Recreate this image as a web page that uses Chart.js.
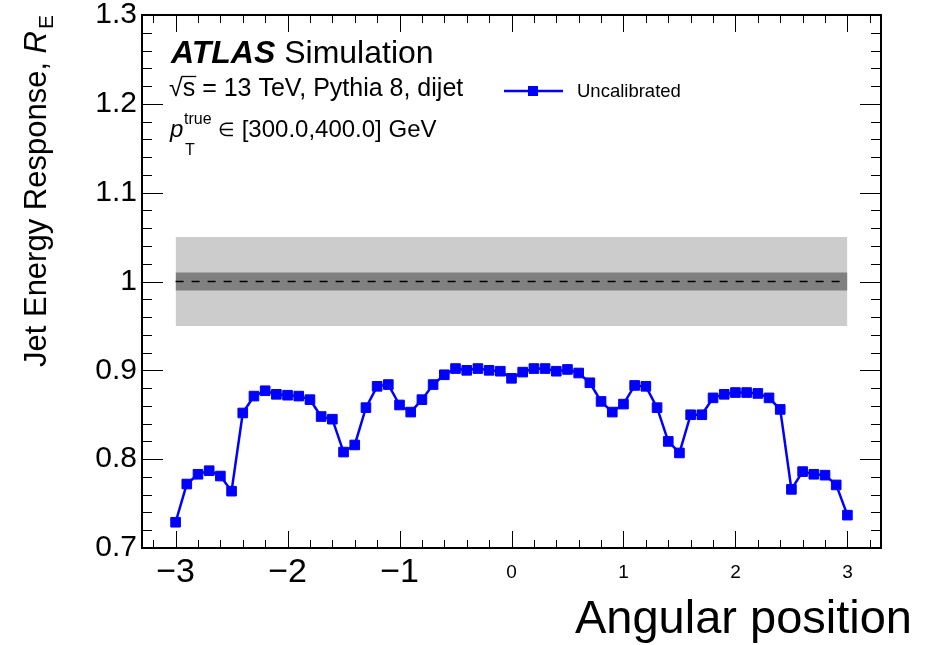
<!DOCTYPE html>
<html>
<head>
<meta charset="utf-8">
<script src="https://cdn.jsdelivr.net/npm/chart.js@4.4.1/dist/chart.umd.min.js"></script>
<style>
  html, body { margin: 0; padding: 0; background: #ffffff; }
  canvas { display: block; }
</style>
</head>
<body>
<canvas id="c" width="926" height="645"></canvas>
<script>
// Angular position bins and the uncalibrated jet energy response in each bin
const angularPositions = [
  -3.0, -2.9, -2.8, -2.7, -2.6, -2.5, -2.4, -2.3, -2.2, -2.1,
  -2.0, -1.9, -1.8, -1.7, -1.6, -1.5, -1.4, -1.3, -1.2, -1.1,
  -1.0, -0.9, -0.8, -0.7, -0.6, -0.5, -0.4, -0.3, -0.2, -0.1,
   0.0,  0.1,  0.2,  0.3,  0.4,  0.5,  0.6,  0.7,  0.8,  0.9,
   1.0,  1.1,  1.2,  1.3,  1.4,  1.5,  1.6,  1.7,  1.8,  1.9,
   2.0,  2.1,  2.2,  2.3,  2.4,  2.5,  2.6,  2.7,  2.8,  2.9,
   3.0
];
const responseUncalibrated = [
  0.729, 0.772, 0.783, 0.787, 0.781, 0.764, 0.852, 0.871, 0.877, 0.873,
  0.872, 0.871, 0.867, 0.848, 0.845, 0.808, 0.816, 0.858, 0.882, 0.884,
  0.861, 0.853, 0.867, 0.884, 0.895, 0.902, 0.900, 0.902, 0.900, 0.899,
  0.891, 0.898, 0.902, 0.902, 0.899, 0.901, 0.897, 0.886, 0.865, 0.853,
  0.862, 0.883, 0.882, 0.858, 0.820, 0.807, 0.850, 0.850, 0.869, 0.873,
  0.875, 0.875, 0.874, 0.869, 0.856, 0.766, 0.786, 0.783, 0.782, 0.771,
  0.737
];

// Reference level and the +-1% / +-5% bands around it
const referenceLevel = 1.0;
const innerBand = [0.99, 1.01];
const outerBand = [0.95, 1.05];
const bandRange = [-3, 3];

// Axis ranges and labelled ticks
const xRange = [-3.3, 3.3];
const yRange = [0.7, 1.3];
const xTickValues = [-3, -2, -1, 0, 1, 2, 3];
const yTickValues = [0.7, 0.8, 0.9, 1.0, 1.1, 1.2, 1.3];

const FONT = "'Liberation Sans', Arial, Helvetica, sans-serif";
const BLUE = '#0000ff';

function flatLine(level) {
  return bandRange.map(x => ({ x: x, y: level }));
}

const series = angularPositions.map((x, i) => ({ x: x, y: responseUncalibrated[i] }));

// ROOT-style frame with inward ticks on all four sides
const framePlugin = {
  id: 'frame',
  afterDatasetsDraw(chart) {
    const ctx = chart.ctx;
    const { left, right, top, bottom } = chart.chartArea;
    const xs = chart.scales.x, ys = chart.scales.y;
    ctx.save();
    ctx.strokeStyle = '#000';
    ctx.lineWidth = 1;
    ctx.beginPath();
    for (let i = -16; i <= 16; i++) {
      const v = i * 0.2;
      const px = Math.round(xs.getPixelForValue(v)) + 0.5;
      const len = (i % 5 === 0) ? 17 : 8;
      ctx.moveTo(px, bottom); ctx.lineTo(px, bottom - len);
      ctx.moveTo(px, top); ctx.lineTo(px, top + len);
    }
    for (let i = 35; i <= 65; i++) {
      const v = i * 0.02;
      const py = Math.round(ys.getPixelForValue(v)) + 0.5;
      const len = (i % 5 === 0) ? 21 : 10;
      ctx.moveTo(left, py); ctx.lineTo(left + len, py);
      ctx.moveTo(right, py); ctx.lineTo(right - len, py);
    }
    ctx.stroke();
    ctx.lineWidth = 2;
    ctx.strokeRect(left, top, right - left, bottom - top);
    ctx.restore();
  }
};

// Labels, legend and axis titles
const textPlugin = {
  id: 'texts',
  afterDraw(chart) {
    const ctx = chart.ctx;
    ctx.save();
    ctx.fillStyle = '#000';
    ctx.textBaseline = 'alphabetic';
    ctx.textAlign = 'left';

    // ATLAS Simulation
    ctx.font = `italic bold 32px ${FONT}`;
    ctx.fillText('ATLAS', 171, 63);
    let w = ctx.measureText('ATLAS').width;
    ctx.font = `32px ${FONT}`;
    ctx.fillText(' Simulation', 171 + w, 63);

    // sqrt(s) line
    ctx.font = `25px ${FONT}`;
    ctx.fillText('\u221A', 169, 96);
    const rw = ctx.measureText('\u221A').width;
    ctx.fillText('s', 169 + rw, 96);
    const sw = ctx.measureText('s').width;
    ctx.lineWidth = 1.3;
    ctx.beginPath();
    ctx.moveTo(169 + rw - 1, 76.5);
    ctx.lineTo(169 + rw + sw + 1, 76.5);
    ctx.stroke();
    ctx.fillText(' = 13 TeV, Pythia 8, dijet', 169 + rw + sw, 96);

    // pT^true range
    ctx.font = `italic 24px ${FONT}`;
    ctx.fillText('p', 170, 137);
    ctx.font = `16px ${FONT}`;
    ctx.fillText('true', 184, 124);
    ctx.fillText('T', 185, 155);
    ctx.font = `19px ${FONT}`;
    ctx.fillText('\u2208', 218, 136);
    const ew = ctx.measureText('\u2208').width;
    ctx.font = `24px ${FONT}`;
    ctx.fillText(' [300.0,400.0] GeV', 218 + ew, 137);

    // legend entry
    ctx.strokeStyle = BLUE;
    ctx.lineWidth = 2.5;
    ctx.beginPath();
    ctx.moveTo(504, 91); ctx.lineTo(563, 91);
    ctx.stroke();
    ctx.fillStyle = BLUE;
    ctx.fillRect(528, 86, 10, 10);
    ctx.fillStyle = '#000';
    ctx.font = `18.5px ${FONT}`;
    ctx.fillText('Uncalibrated', 577, 97);

    // x-axis title
    ctx.font = `47px ${FONT}`;
    ctx.textAlign = 'right';
    ctx.fillText('Angular position', 912, 633);

    // y-axis title, rotated, ending at the top of the frame
    ctx.textAlign = 'left';
    const main = 'Jet Energy Response, ';
    ctx.font = `31px ${FONT}`;
    const wMain = ctx.measureText(main).width;
    ctx.font = `italic 31px ${FONT}`;
    const wR = ctx.measureText('R').width;
    ctx.font = `21px ${FONT}`;
    const wE = ctx.measureText('E').width;
    const total = wMain + wR + wE + 2;
    ctx.translate(46, 15 + total);
    ctx.rotate(-Math.PI / 2);
    ctx.font = `31px ${FONT}`;
    ctx.fillText(main, 0, 0);
    ctx.font = `italic 31px ${FONT}`;
    ctx.fillText('R', wMain, 0);
    ctx.font = `21px ${FONT}`;
    ctx.fillText('E', wMain + wR + 2, 7);
    ctx.restore();
  }
};

const lineBase = { pointRadius: 0, borderWidth: 0, tension: 0 };

new Chart(document.getElementById('c'), {
  type: 'line',
  data: {
    datasets: [
      {
        label: 'Uncalibrated',
        data: series,
        borderColor: BLUE,
        backgroundColor: BLUE,
        borderWidth: 2.5,
        pointStyle: 'rect',
        pointRadius: 6.8,
        pointBorderWidth: 1,
        pointBorderColor: BLUE,
        pointBackgroundColor: BLUE,
        tension: 0,
        fill: false,
        order: 0
      },
      {
        label: 'reference',
        data: flatLine(referenceLevel),
        borderColor: '#000',
        borderWidth: 1.5,
        borderDash: [8, 8],
        pointRadius: 0,
        fill: false,
        order: 1
      },
      Object.assign({ label: 'inner-hi', data: flatLine(innerBand[1]), fill: '+1', backgroundColor: '#808080', borderColor: '#808080', order: 2 }, lineBase),
      Object.assign({ label: 'inner-lo', data: flatLine(innerBand[0]), fill: false, borderColor: '#808080', order: 3 }, lineBase),
      Object.assign({ label: 'outer-hi', data: flatLine(outerBand[1]), fill: '+1', backgroundColor: '#cccccc', borderColor: '#cccccc', order: 4 }, lineBase),
      Object.assign({ label: 'outer-lo', data: flatLine(outerBand[0]), fill: false, borderColor: '#cccccc', order: 5 }, lineBase)
    ]
  },
  options: {
    responsive: false,
    animation: false,
    devicePixelRatio: 1,
    layout: { padding: { left: 0, right: 45, top: 15, bottom: 0 } },
    plugins: {
      legend: { display: false },
      tooltip: { enabled: false },
      filler: { propagate: false }
    },
    scales: {
      x: {
        type: 'linear',
        min: xRange[0],
        max: xRange[1],
        border: { display: false },
        grid: { display: false, drawTicks: false },
        afterBuildTicks: (scale) => { scale.ticks = xTickValues.map(v => ({ value: v })); },
        afterFit: (scale) => { scale.height = 97; },
        ticks: {
          padding: 8,
          maxRotation: 0,
          autoSkip: false,
          color: '#000',
          font: (c) => (c.tick && c.tick.value < 0)
            ? { family: FONT, size: 34, lineHeight: 1 }
            : { family: FONT, size: 19, lineHeight: '33px' },
          callback: (v) => v < 0 ? '\u2212' + Math.abs(v) : String(v)
        }
      },
      y: {
        type: 'linear',
        min: yRange[0],
        max: yRange[1],
        border: { display: false },
        grid: { display: false, drawTicks: false },
        afterBuildTicks: (scale) => { scale.ticks = yTickValues.map(v => ({ value: v })); },
        afterFit: (scale) => { scale.width = 142; },
        ticks: {
          padding: 5,
          autoSkip: false,
          color: '#000',
          font: { family: FONT, size: 30, lineHeight: 0.6 },
          callback: (v) => v === 1 ? '1' : v.toFixed(1)
        }
      }
    }
  },
  plugins: [framePlugin, textPlugin]
});
</script>
</body>
</html>
